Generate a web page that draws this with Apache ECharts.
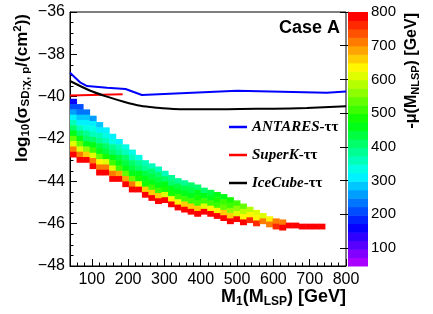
<!DOCTYPE html>
<html><head><meta charset="utf-8">
<script src="https://cdn.jsdelivr.net/npm/echarts@6/dist/echarts.min.js"></script>
<style>html,body{margin:0;padding:0;background:#fff}#c{width:433px;height:314px}</style>
</head><body><div id="c"></div>
<script>
// ---- data ----
const antaresX = [40, 69, 87, 142, 193, 238, 500, 747, 800];
const antaresY = [-38.87, -39.34, -39.5, -39.58, -39.64, -39.92, -39.72, -39.81, -39.76];
const superkX = [40, 185];
const superkY = [-39.95, -39.88];
const icecubeX = [40, 96, 142, 188, 234, 280, 325, 417, 509, 600, 692, 800];
const icecubeY = [-39.26, -39.72, -40.0, -40.24, -40.43, -40.52, -40.58, -40.6, -40.58, -40.57, -40.53, -40.45];

// scan cells: column start (GeV), top of column (log10 sigma), mu values top->bottom
const colX0 = [40,58,76,94,112,130,148,166,184,202,220,238,256,274,292,310,328,346,364,382,400,418,436,454,472,490,508,526,544,562,580,598,616,634,652,670,688,706,724];
const colTop = [-40.1,-40.35,-40.6,-40.9,-41.2,-41.45,-41.75,-42.0,-42.25,-42.5,-42.75,-43.0,-43.15,-43.3,-43.5,-43.7,-43.85,-43.95,-44.05,-44.15,-44.3,-44.4,-44.5,-44.6,-44.75,-44.9,-45.05,-45.2,-45.35,-45.5,-45.65,-45.75,-45.8,-45.95,-45.95,-46.0,-46.0,-46.0,-46.0];
const colMu = [
  [170,220,260,300,350,400,450,540,620,710,790],
  [200,240,280,320,360,410,460,540,620,710,790],
  [240,280,310,340,380,420,470,560,660,790],
  [270,300,330,370,410,450,520,610,710,790],
  [290,320,350,390,430,470,540,630,720,790],
  [300,330,370,410,440,490,600,700,790],
  [310,340,380,420,450,500,620,710,790],
  [320,350,390,430,460,520,690,790],
  [330,360,400,430,460,530,690,790],
  [340,370,410,440,470,540,700,790],
  [340,380,420,450,480,640,790],
  [350,390,430,460,490,650,790],
  [360,400,440,470,500,660,790],
  [360,400,440,470,510,670,790],
  [370,420,450,480,620,790],
  [380,420,460,490,630,790],
  [380,430,460,500,640,790],
  [390,430,470,500,650,790],
  [400,440,470,510,660,790],
  [410,450,480,520,670,790],
  [420,460,500,620,790],
  [430,470,510,630,790],
  [450,490,520,640,790],
  [470,500,540,650,790],
  [490,520,560,660,790],
  [520,560,620,790],
  [540,580,640,790],
  [580,630,760],
  [600,640,770],
  [620,720],
  [640,720],
  [700,770],
  [720,780],
  [780],[780],[780],[780],[780],[780]
];
const binW = 18, cellH = 0.25;

const muMin = 46.5, muMax = 800, nBands = 30;

// ---- helpers ----
function bandColor(v){
  let i = Math.floor((v - muMin) / (muMax - muMin) * nBands);
  i = Math.max(0, Math.min(nBands - 1, i));
  const h = 280 * (1 - i / (nBands - 1));
  return 'hsl(' + h.toFixed(1) + ',100%,50%)';
}
const cells = [];
colX0.forEach((x0, c) => {
  colMu[c].forEach((m, k) => {
    const yt = colTop[c] - k * cellH;
    cells.push([x0, x0 + binW, yt, yt - cellH, m]);
  });
});
const bands = [];
for (let i = 0; i < nBands; i++) {
  const lo = muMin + (muMax - muMin) * i / nBands, hi = muMin + (muMax - muMin) * (i + 1) / nBands;
  bands.push([lo, hi, (lo + hi) / 2]);
}
const zip = (a, b) => a.map((v, i) => [v, b[i]]);

const F = 'Liberation Sans';
const chart = echarts.init(document.getElementById('c'), null, {renderer: 'canvas'});
chart.setOption({
  animation: false,
  grid: [
    {left: 70, top: 12, width: 276, height: 254, show: true, borderColor: '#000', borderWidth: 1, backgroundColor: 'transparent'},
    {left: 348, top: 12, width: 20, height: 254}
  ],
  xAxis: [
    {type: 'value', gridIndex: 0, min: 40, max: 800, splitNumber: 8,
     axisLine: {show: true, lineStyle: {color: '#000', width: 1}},
     axisTick: {show: true, inside: true, length: 7, lineStyle: {color: '#000'}},
     axisLabel: {show: true, color: '#000', fontFamily: F, fontSize: 16, margin: 6, showMinLabel: false,
                 formatter: v => (v % 100 === 0 ? String(v) : '')},
     splitLine: {show: false}},
    {type: 'value', gridIndex: 0, min: 40, max: 800, interval: 20, position: 'bottom',
     axisLine: {show: false}, axisTick: {show: true, inside: true, length: 3.5, lineStyle: {color: '#000'}},
     axisLabel: {show: false}, splitLine: {show: false}},
    {type: 'value', gridIndex: 1, min: 0, max: 1, show: false}
  ],
  yAxis: [
    {type: 'value', gridIndex: 0, min: -48, max: -36, interval: 2,
     axisLine: {show: true, lineStyle: {color: '#000', width: 1}},
     axisTick: {show: true, inside: true, length: 7, lineStyle: {color: '#000'}},
     minorTick: {show: true, splitNumber: 4, length: 3.5, lineStyle: {color: '#000'}},
     axisLabel: {color: '#000', fontFamily: F, fontSize: 16, margin: 5, formatter: v => String(v).replace('-', '\u2212')},
     splitLine: {show: false}},
    {type: 'value', gridIndex: 1, min: muMin, max: muMax, position: 'right', splitNumber: 8,
     axisLine: {show: true, lineStyle: {color: '#555', width: 1}},
     axisTick: {show: true, inside: true, length: 8, lineStyle: {color: '#000'}},
     axisLabel: {color: '#000', fontFamily: F, fontSize: 15, margin: 3, showMinLabel: false,
                 formatter: v => (v % 100 === 0 ? String(v) : '')},
     splitLine: {show: false}}
  ],
  legend: {
    orient: 'vertical', left: 224, top: 113, itemWidth: 18, itemHeight: 2.5, itemGap: 10, icon: 'rect',
    data: ['ANTARES', 'SuperK', 'IceCube'],
    formatter: n => '{n|' + n + '}{t|-\u03c4\u03c4}',
    textStyle: {lineHeight: 18, rich: {
      n: {fontFamily: 'Liberation Serif', fontStyle: 'italic', fontWeight: 'bold', fontSize: 15, color: '#000', lineHeight: 18},
      t: {fontFamily: 'Liberation Serif', fontWeight: 'bold', fontSize: 15, color: '#000', lineHeight: 18}
    }}
  },
  series: [
    {type: 'custom', xAxisIndex: 0, yAxisIndex: 0, clip: true, silent: true, data: cells,
     renderItem: (params, api) => {
       const p0 = api.coord([api.value(0), api.value(2)]);
       const p1 = api.coord([api.value(1), api.value(3)]);
       return {type: 'rect', shape: {x: p0[0], y: p0[1], width: p1[0] - p0[0] + 0.5, height: p1[1] - p0[1] + 0.5},
               style: {fill: bandColor(api.value(4))}};
     }},
    {type: 'custom', xAxisIndex: 2, yAxisIndex: 1, silent: true, data: bands,
     renderItem: (params, api) => {
       const p0 = api.coord([0, api.value(1)]);
       const p1 = api.coord([1, api.value(0)]);
       return {type: 'rect', shape: {x: p0[0], y: p0[1], width: p1[0] - p0[0], height: p1[1] - p0[1] + 0.5},
               style: {fill: bandColor(api.value(2))}};
     }},
    {name: 'ANTARES', type: 'line', xAxisIndex: 0, yAxisIndex: 0, data: zip(antaresX, antaresY), symbol: 'none',
     lineStyle: {color: '#0000ff', width: 2}, itemStyle: {color: '#0000ff'}},
    {name: 'SuperK', type: 'line', xAxisIndex: 0, yAxisIndex: 0, data: zip(superkX, superkY), symbol: 'none',
     lineStyle: {color: '#ff0000', width: 2}, itemStyle: {color: '#ff0000'}},
    {name: 'IceCube', type: 'line', xAxisIndex: 0, yAxisIndex: 0, data: zip(icecubeX, icecubeY), symbol: 'none', smooth: 0.3,
     lineStyle: {color: '#000000', width: 2}, itemStyle: {color: '#000000'}}
  ],
  graphic: [
    {type: 'text', x: 340, y: 28, style: {text: 'Case A', font: 'bold 18px "Liberation Sans"', fill: '#000', align: 'right', verticalAlign: 'middle'}},
    {type: 'text', x: 22, y: 14, rotation: Math.PI / 2, style: {
      text: '{b|log}{s|10}{b|(\u03c3}{s|SD;\u03c7, p}{b|/(cm}{u|2}{b|))}', align: 'right', verticalAlign: 'middle',
      rich: {
        b: {fontFamily: F, fontWeight: 'bold', fontSize: 17, fill: '#000'},
        s: {fontFamily: F, fontWeight: 'bold', fontSize: 11.5, padding: [8, 0, 0, 0], fill: '#000'},
        u: {fontFamily: F, fontWeight: 'bold', fontSize: 11.5, padding: [0, 0, 8, 0], fill: '#000'}
      }}},
    {type: 'text', x: 346, y: 297, style: {
      text: '{b|M}{s|1}{b|(M}{s|LSP}{b|) [GeV]}', align: 'right', verticalAlign: 'middle',
      rich: {
        b: {fontFamily: F, fontWeight: 'bold', fontSize: 18, fill: '#000'},
        s: {fontFamily: F, fontWeight: 'bold', fontSize: 12, padding: [9, 0, 0, 0], fill: '#000'}
      }}},
    {type: 'text', x: 412, y: 13, rotation: Math.PI / 2, style: {
      text: '{b|-\u03bc(M}{s|NLSP}{b|) [GeV]}', align: 'right', verticalAlign: 'middle',
      rich: {
        b: {fontFamily: F, fontWeight: 'bold', fontSize: 16, fill: '#000'},
        s: {fontFamily: F, fontWeight: 'bold', fontSize: 11, padding: [8, 0, 0, 0], fill: '#000'}
      }}}
  ]
});
</script>
</body></html>
